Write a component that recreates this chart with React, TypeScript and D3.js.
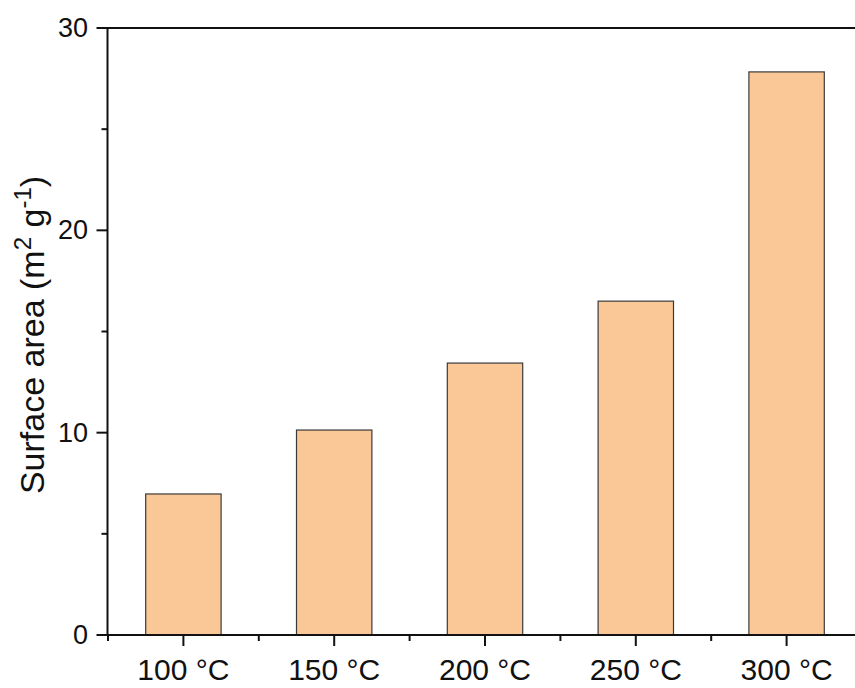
import React from "react";
import * as d3 from "d3";

const categories = ["100 °C", "150 °C", "200 °C", "250 °C", "300 °C"];
const surfaceArea = [6.97, 10.13, 13.44, 16.5, 27.83];
const yMajorTicks = [0, 10, 20, 30];
const yMinorTicks = [5, 15, 25];

const W = 855;
const H = 688;
const FONT = "Liberation Sans, Arial, sans-serif";

export default function App() {
  const y = d3.scaleLinear().domain([0, 30]).range([635, 28]);
  const x = d3
    .scaleBand<string>()
    .domain(categories)
    .range([108, 862])
    .paddingInner(0.5)
    .paddingOuter(0.25);
  const step = x.step();
  const x0 = 108;
  const axisX = 107.5;
  const axisY = 635;
  const boundaries = d3.range(categories.length + 1).map((i) => x0 + i * step);

  return (
    <svg
      width={W}
      height={H}
      style={{ position: "absolute", left: 0, top: 0, background: "#fff" }}
      fontFamily={FONT}
    >
      {categories.map((c, i) => (
        <rect
          key={c}
          x={x(c)!}
          y={y(surfaceArea[i])}
          width={x.bandwidth()}
          height={y(0) - y(surfaceArea[i])}
          fill="#FAC896"
          stroke="#3a3a3a"
          strokeWidth={1.2}
        />
      ))}
      <line x1={axisX - 1} x2={W} y1={y(30)} y2={y(30)} stroke="#111" strokeWidth={2} />
      <line x1={axisX} x2={axisX} y1={y(30)} y2={axisY} stroke="#111" strokeWidth={2} />
      {yMajorTicks.map((t) => (
        <g key={"ym" + t}>
          <line x1={axisX - 11} x2={axisX} y1={y(t)} y2={y(t)} stroke="#111" strokeWidth={2} />
          <text
            x={88}
            y={y(t)}
            textAnchor="end"
            dominantBaseline="central"
            fontSize={27}
            fill="#111"
          >
            {t}
          </text>
        </g>
      ))}
      {yMinorTicks.map((t) => (
        <line key={"yn" + t} x1={axisX - 6} x2={axisX} y1={y(t)} y2={y(t)} stroke="#111" strokeWidth={2} />
      ))}
      <line x1={axisX - 1} x2={W} y1={axisY} y2={axisY} stroke="#111" strokeWidth={2} />
      {categories.map((c) => {
        const cx = x(c)! + x.bandwidth() / 2;
        return (
          <g key={"xt" + c}>
            <line x1={cx} x2={cx} y1={axisY} y2={axisY + 11} stroke="#111" strokeWidth={2} />
            <text x={cx} y={680} textAnchor="middle" fontSize={30} fill="#111">
              {c}
            </text>
          </g>
        );
      })}
      {boundaries.map((b, i) => (
        <line key={"xb" + i} x1={b} x2={b} y1={axisY} y2={axisY + 6} stroke="#111" strokeWidth={2} />
      ))}
      <text
        transform={`translate(44, 335) rotate(-90)`}
        textAnchor="middle"
        fontSize={34}
        fill="#111"
      >
        Surface area (m
        <tspan baselineShift="super" fontSize={24}>2</tspan>
        <tspan> g</tspan>
        <tspan baselineShift="super" fontSize={24}>-1</tspan>
        <tspan>)</tspan>
      </text>
    </svg>
  );
}
